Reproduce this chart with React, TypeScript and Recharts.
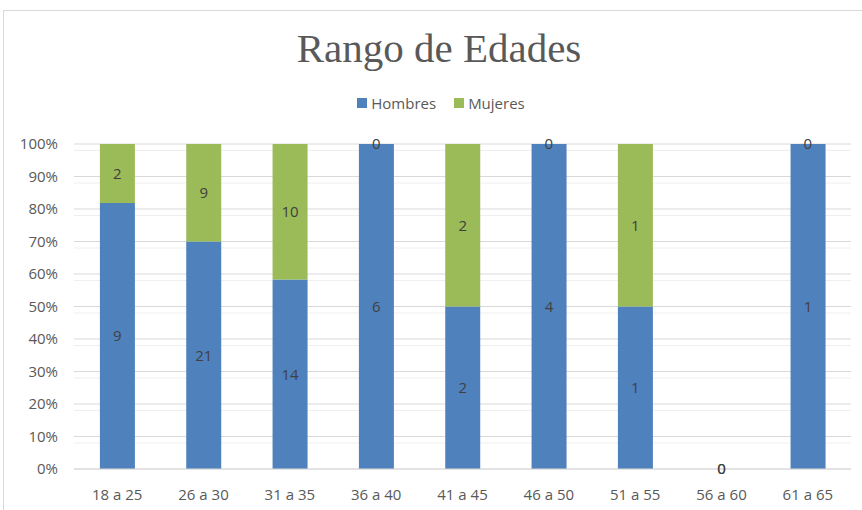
import { BarChart, Bar, XAxis, YAxis, CartesianGrid, LabelList, ReferenceDot } from "recharts";

const categories = ["18 a 25", "26 a 30", "31 a 35", "36 a 40", "41 a 45", "46 a 50", "51 a 55", "56 a 60", "61 a 65"];
const hombres = [9, 21, 14, 6, 2, 4, 1, 0, 1];
const mujeres = [2, 9, 10, 0, 2, 0, 1, 0, 0];
const majorTicks = [0, 0.1, 0.2, 0.3, 0.4, 0.5, 0.6, 0.7, 0.8, 0.9, 1];
const minorTicks = [
    0.02, 0.04, 0.06, 0.08, 0.12, 0.14, 0.16, 0.18, 0.22, 0.24, 0.26, 0.28,
    0.32, 0.34, 0.36, 0.38, 0.42, 0.44, 0.46, 0.48, 0.52, 0.54, 0.56, 0.58,
    0.62, 0.64, 0.66, 0.68, 0.72, 0.74, 0.76, 0.78, 0.82, 0.84, 0.86, 0.88,
    0.92, 0.94, 0.96, 0.98,
];

const BLUE = "#4F81BD";
const GREEN = "#9BBB59";
const FONT = "'Open Sans', sans-serif";

const chartData = categories.map((name, i) => ({
    name,
    Hombres: hombres[i],
    Mujeres: mujeres[i],
}));

// zero-height segments get no label from LabelList, so place them by hand at their stacked share
const zeroLabels: { x: string; y: number }[] = [];
categories.forEach((name, i) => {
    const total = hombres[i] + mujeres[i];
    if (hombres[i] === 0) zeroLabels.push({ x: name, y: 0 });
    if (mujeres[i] === 0) zeroLabels.push({ x: name, y: total ? 1 : 0 });
});

export default function App() {
    return (
        <div style={{ position: "absolute", left: 0, top: 0, width: 862, height: 510, background: "#fff", overflow: "hidden" }}>
            <div style={{ position: "absolute", left: 3, top: 10, width: 900, height: 600, borderLeft: "1px solid #D9D9D9", borderTop: "1px solid #D9D9D9" }} />
            <div
                style={{
                    position: "absolute",
                    left: 0,
                    top: 24,
                    width: 878,
                    textAlign: "center",
                    fontFamily: "'Liberation Serif', serif",
                    fontSize: 41,
                    color: "#595959",
                }}
            >
                Rango de Edades
            </div>
            <div
                style={{
                    position: "absolute",
                    left: 0,
                    top: 93,
                    width: 882,
                    display: "flex",
                    justifyContent: "center",
                    alignItems: "center",
                    fontFamily: FONT,
                    fontSize: 15,
                    color: "#595959",
                }}
            >
                <span style={{ width: 10, height: 10, background: BLUE, marginRight: 4 }} />
                <span style={{ marginRight: 18 }}>Hombres</span>
                <span style={{ width: 10, height: 10, background: GREEN, marginRight: 4 }} />
                <span>Mujeres</span>
            </div>
            <div style={{ position: "absolute", left: 0, top: 0 }}>
                <BarChart
                    width={862}
                    height={510}
                    data={chartData}
                    stackOffset="expand"
                    barCategoryGap="30%"
                    margin={{ top: 144, right: 11, left: 0, bottom: 11 }}
                >
                    <CartesianGrid vertical={false} horizontalValues={minorTicks} stroke="#EFEFEF" />
                    <CartesianGrid vertical={false} horizontalValues={majorTicks} stroke="#D9D9D9" />
                    <XAxis
                        dataKey="name"
                        height={30}
                        tickLine={false}
                        tickSize={0}
                        tickMargin={20}
                        axisLine={{ stroke: "#D9D9D9" }}
                        tick={{ fill: "#595959", fontSize: 15, fontFamily: FONT }}
                    />
                    <YAxis
                        width={74}
                        domain={[0, 1]}
                        ticks={majorTicks}
                        tickFormatter={(v) => `${Math.round(v * 100)}%`}
                        axisLine={false}
                        tickLine={false}
                        tickSize={0}
                        tickMargin={16}
                        tick={{ fill: "#595959", fontSize: 15, fontFamily: FONT }}
                    />
                    <Bar dataKey="Hombres" stackId="a" fill={BLUE} isAnimationActive={false}>
                        <LabelList dataKey="Hombres" position="center" fill="#404040" fontSize={15} fontFamily={FONT} />
                    </Bar>
                    <Bar dataKey="Mujeres" stackId="a" fill={GREEN} isAnimationActive={false}>
                        <LabelList dataKey="Mujeres" position="center" fill="#404040" fontSize={15} fontFamily={FONT} />
                    </Bar>
                    {zeroLabels.map((z, i) => (
                        <ReferenceDot
                            key={i}
                            x={z.x}
                            y={z.y}
                            r={0}
                            fill="none"
                            stroke="none"
                            ifOverflow="visible"
                            label={{ value: "0", position: "center", fill: "#404040", fontSize: 15, fontFamily: FONT }}
                        />
                    ))}
                </BarChart>
            </div>
        </div>
    );
}
